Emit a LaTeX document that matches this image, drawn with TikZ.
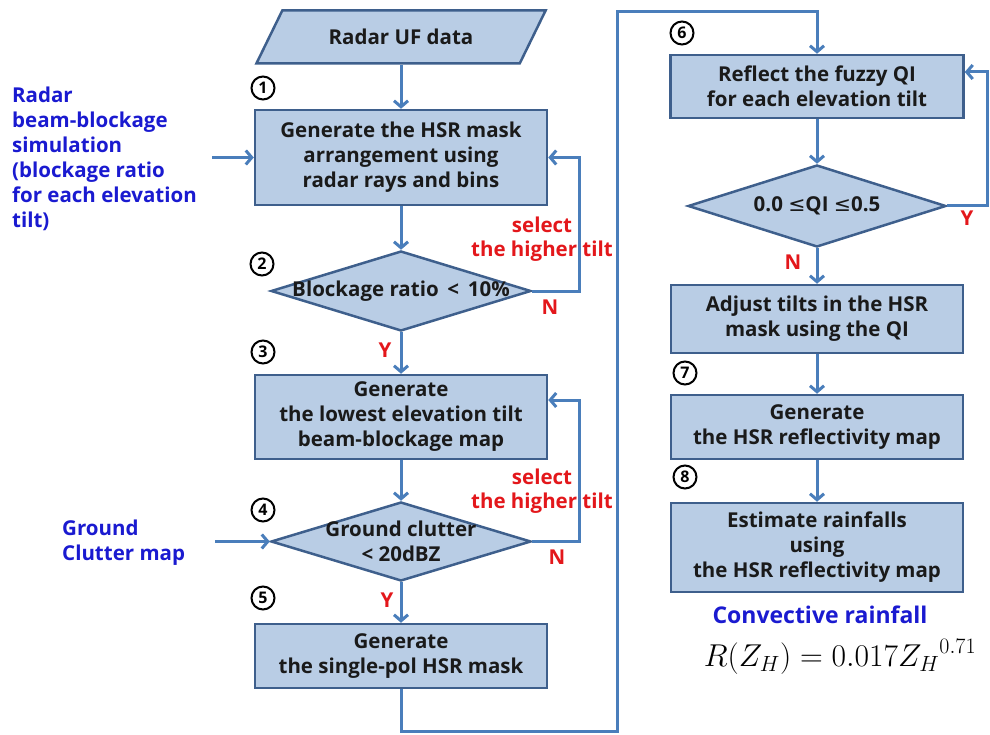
\documentclass[tikz,border=0pt]{standalone}
\usepackage{graphicx}
\usepackage{fontspec}
\setmainfont{Open Sans}
\newfontfamily\dejavu{DejaVu Sans}
\usetikzlibrary{shapes.geometric,arrows.meta}
\definecolor{boxfill}{HTML}{B9CDE5}
\definecolor{boxdraw}{HTML}{3E5F8C}
\definecolor{linec}{HTML}{4A7EBB}
\definecolor{bluetxt}{HTML}{1A1AD0}
\definecolor{redtxt}{HTML}{E3171B}
\definecolor{txt}{HTML}{1A1A1A}
\begin{document}
\begin{tikzpicture}[x=1pt,y=-1pt,
  boxtxt/.style={font=\bfseries\fontsize{20.5}{25}\selectfont,text=txt},
  procbox/.style={boxtxt,draw=boxdraw,fill=boxfill,line width=2.5pt,minimum width=292pt,align=center,inner sep=0pt},
  decbox/.style={diamond,draw=boxdraw,fill=boxfill,line width=2.5pt,inner sep=0pt},
  iobox/.style={boxtxt,trapezium,trapezium left angle=45,trapezium right angle=135,trapezium stretches=true,draw=boxdraw,fill=boxfill,line width=2.5pt,minimum width=290pt,minimum height=53pt,inner sep=0pt},
  conn/.style={draw=linec,line width=3pt,-{Straight Barb[length=6pt,width=14pt]}},
  redlbl/.style={font=\bfseries\fontsize{20.5}{24}\selectfont,text=redtxt,align=center,inner sep=0pt},
  bluelbl/.style={font=\bfseries\fontsize{20.5}{25}\selectfont,text=bluetxt,align=left,inner sep=0pt},
  numlbl/.style={circle,draw=black,line width=2pt,minimum size=23pt,inner sep=0pt,font=\bfseries\fontsize{16}{16}\selectfont}
]
\useasboundingbox (0,0) rectangle (990,735);

% left column
\node[iobox] (uf) at (401,37) {Radar UF data};
\node[procbox,minimum height=95pt] (b1) at (401,157.5) {Generate the HSR mask\\arrangement using\\radar rays and bins};
\node[decbox,minimum width=260pt,minimum height=80pt] (d2) at (401,291) {};
\node[boxtxt] (t2) at (d2.center) {Blockage ratio \,<\, 10\%};
\node[procbox,minimum height=84pt] (b3) at (401,417) {Generate\\the lowest elevation tilt\\beam-blockage map};
\node[decbox,minimum width=260pt,minimum height=79pt] (d4) at (401,541.5) {};
\node[boxtxt,align=center,inner sep=0pt] (t4) at (d4.center) {Ground clutter\\< 20dBZ};
\node[procbox,minimum height=64pt] (b5) at (401,656) {Generate\\the single-pol HSR mask};

% right column
\node[procbox,minimum width=293pt,minimum height=63pt] (b6) at (817,86.5) {Reflect the fuzzy QI\\for each elevation tilt};
\node[decbox,minimum width=258pt,minimum height=82pt] (d6) at (817,206) {};
\node[boxtxt] (t6) at (d6.center) {0.0 {\dejavu\mdseries ≤}QI {\dejavu\mdseries ≤}0.5};
\node[procbox,minimum height=68pt] (badj) at (817,319) {Adjust tilts in the HSR\\mask using the QI};
\node[procbox,minimum height=64pt] (b7) at (817,427) {Generate\\the HSR reflectivity map};
\node[procbox,minimum height=89pt] (b8) at (817,547.5) {Estimate rainfalls\\using\\the HSR reflectivity map};

% side inputs
\node[bluelbl,anchor=north west] (sim) at (12,87) {Radar\\beam-blockage\\simulation\\(blockage ratio\\for each elevation\\tilt)};
\node[bluelbl,anchor=north west] (gcm) at (62,520) {Ground\\Clutter map};
\coordinate (in1) at (212,157.5);
\coordinate (in2) at (215,541.5);

% numbers
\node[numlbl] (n1) at (263,88) {1};
\node[numlbl] (n2) at (262,264) {2};
\node[numlbl] (n3) at (263,352) {3};
\node[numlbl] (n4) at (263,510) {4};
\node[numlbl] (n5) at (263,598) {5};
\node[numlbl] (n6) at (682,33) {6};
\node[numlbl] (n7) at (685,373) {7};
\node[numlbl] (n8) at (685,477) {8};

% red labels
\node[redlbl] (s1) at (542,239) {select\\the higher tilt};
\node[redlbl] (s2) at (542,491) {select\\the higher tilt};
\node[redlbl] (N1) at (550,307) {N};
\node[redlbl] (N2) at (557,557) {N};
\node[redlbl] (N3) at (793,262) {N};
\node[redlbl] (Y1) at (385,350) {Y};
\node[redlbl] (Y2) at (387,600) {Y};
\node[redlbl] (Y3) at (967,218) {Y};

% bottom right
\node[font=\bfseries\fontsize{23}{26}\selectfont,text=bluetxt,inner sep=0pt] (conv) at (820,615) {Convective rainfall};
\node[font=\fontsize{24}{28}\selectfont,inner sep=0pt] (eq) at (840,657) {\scalebox{1.27}{$R(Z_H) = 0.017{Z_H}^{0.71}$}};

% routing coordinates
\coordinate (c1) at (617,731);
\coordinate (c2) at (617,12);
\coordinate (c3) at (987,206);

% connectors
\draw[conn] (b1.north |- uf.south) -- (b1.north);
\draw[conn] (b1.south) -- (d2.north);
\draw[conn] (d2.east) -- ++(47,0) |- (b1.east);
\draw[conn] (d2.south) -- (b3.north);
\draw[conn] (b3.south) -- (d4.north);
\draw[conn] (d4.east) -- ++(47,0) |- ([yshift=17pt]b3.east);
\draw[conn] (d4.south) -- (b5.north);
\draw[conn] (b5.south) |- (c1) -- (c2) -| (b6.north);
\draw[conn] (b6.south) -- (d6.north);
\draw[conn] (d6.east) -- (c3) |- ([yshift=14.5pt]b6.east);
\draw[conn] (d6.south) -- (badj.north);
\draw[conn] (badj.south) -- (b7.north);
\draw[conn] (b7.south) -- (b8.north);
\draw[conn] (in1) -- (b1.west);
\draw[conn] (in2) -- (d4.west);
\end{tikzpicture}
\end{document}
